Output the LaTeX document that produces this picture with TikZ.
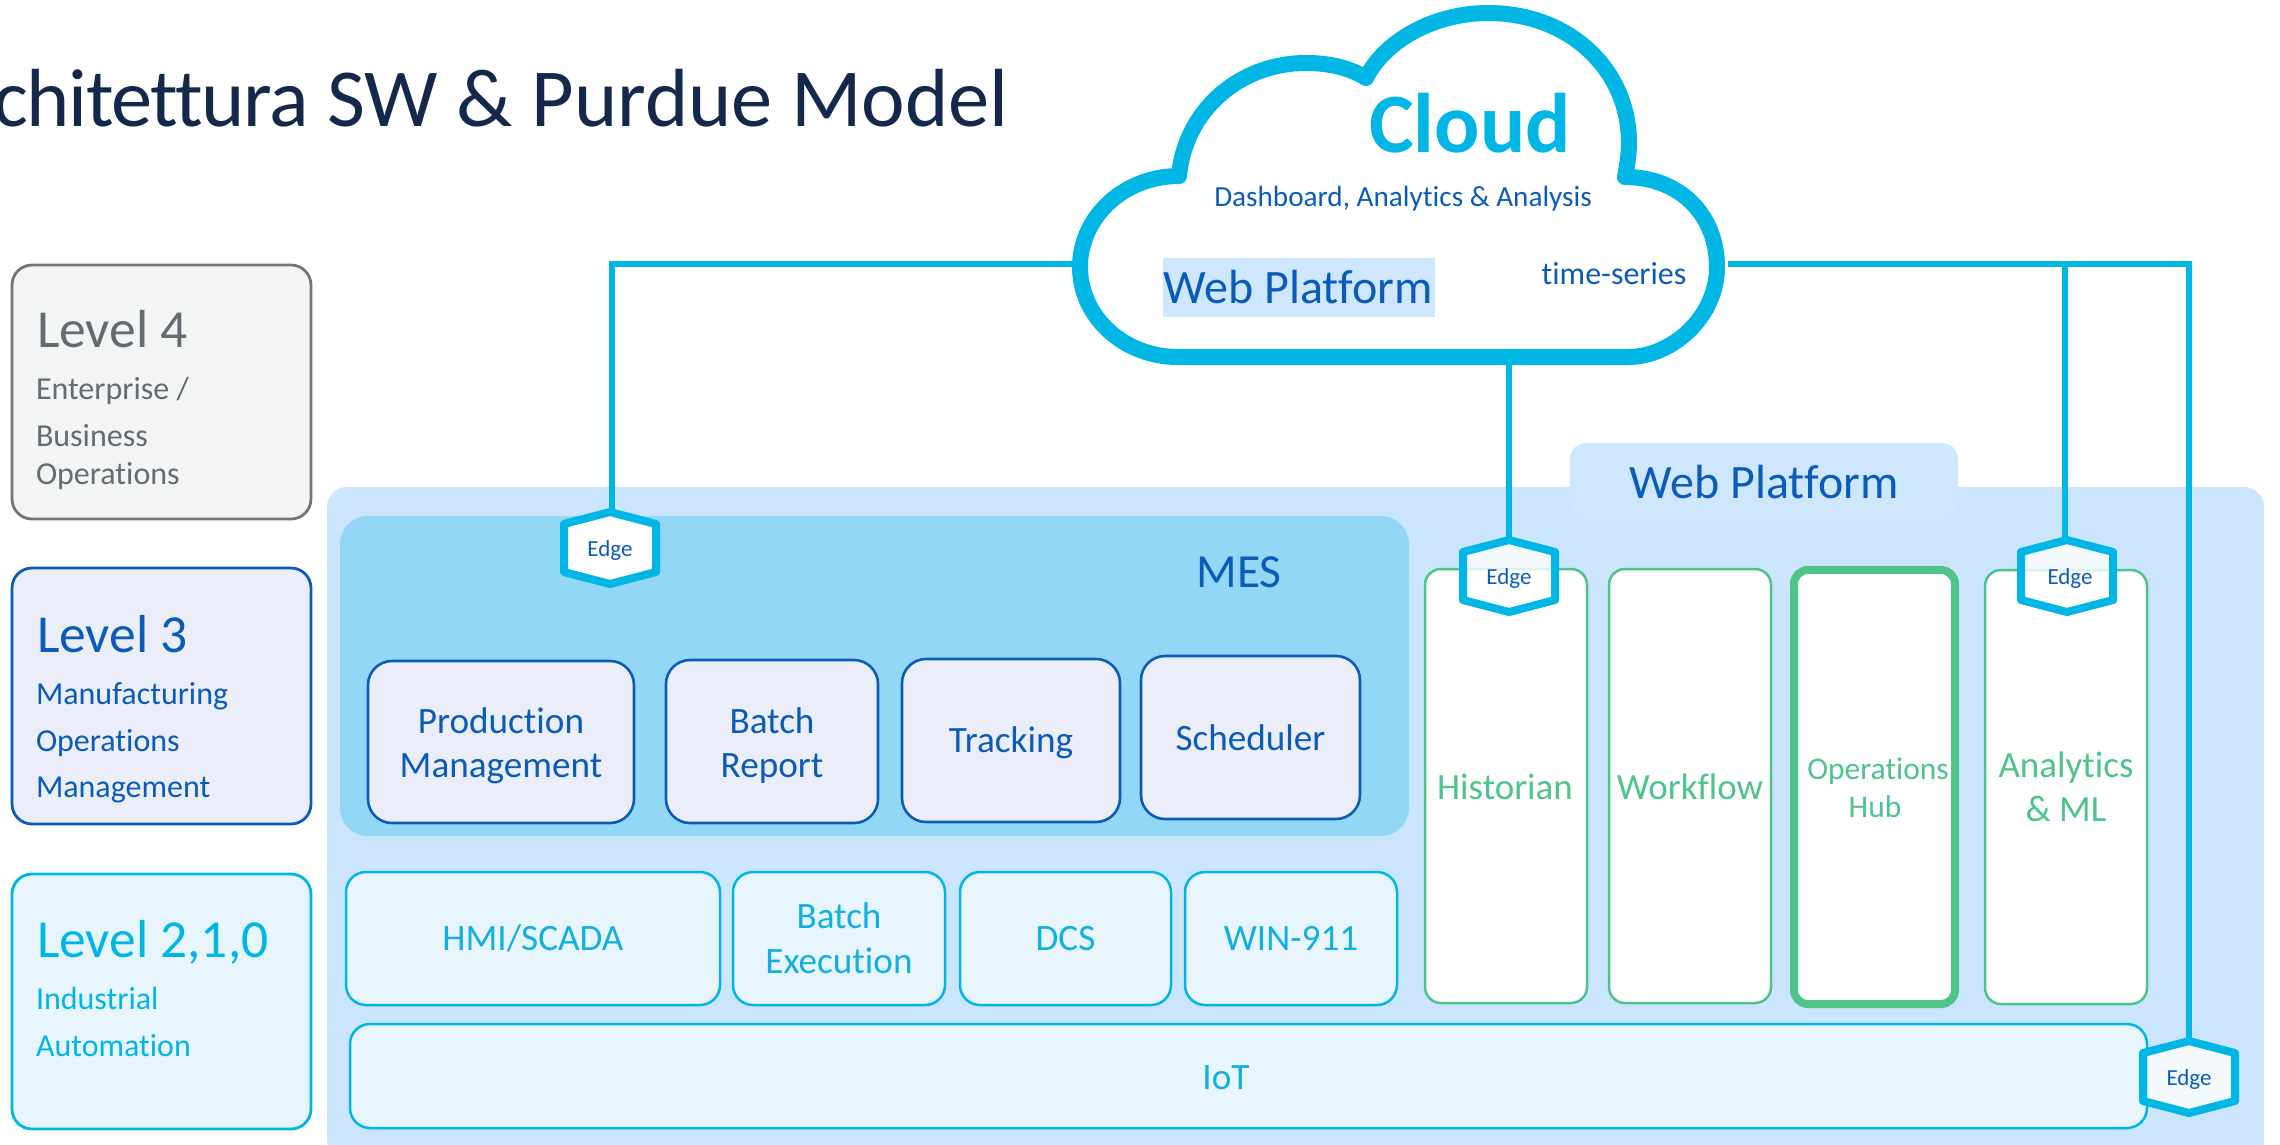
\documentclass[tikz,border=0pt]{standalone}
\usepackage{fontspec}
\setmainfont{Carlito}[Ligatures=CommonOff]
\definecolor{cyanline}{HTML}{00B6E4}
\definecolor{cyantext}{HTML}{12B0DE}
\definecolor{deepblue}{HTML}{0B5CB8}
\definecolor{panelblue}{HTML}{CBE5FE}
\definecolor{tabblue}{HTML}{CFE6FF}
\definecolor{mesblue}{HTML}{93D7F7}
\definecolor{palecyan}{HTML}{E8F5FC}
\definecolor{paleindigo}{HTML}{EBEEF8}
\definecolor{greenline}{HTML}{4EC48A}
\definecolor{greytext}{HTML}{666B73}
\definecolor{greyline}{HTML}{747474}
\definecolor{greyfill}{HTML}{F3F4F4}
\definecolor{navy}{HTML}{14284B}
\newcommand{\fs}[2]{\fontsize{#1}{#2}\selectfont}
\newcommand{\rbox}[7]{\node[#2, minimum width={(#5-#3)*1pt}, minimum height={(#6-#4)*1pt}, at={({(#3+#5)/2},{(#4+#6)/2})}] (#1) {#7};}
\newcommand{\edgehex}[5]{%
  \draw[#4] (#2,#3-36) -- (#2+46,#3-24) -- (#2+46,#3+24) -- (#2,#3+36) -- (#2-46,#3+24) -- (#2-46,#3-24) -- cycle;
  \node[edgebox] (#1) at (#2,#3) {};
  \node[edgetext] (#1t) at (#2+#5,#3+2) {Edge};}
\tikzset{
  x=1pt,y=-1pt,
  base/.style={inner sep=0pt,outer sep=0pt,align=center},
  levelbox/.style={base,rounded corners=20pt,line width=2.8pt},
  mesbox/.style={base,rounded corners=24pt,line width=2.6pt,draw=deepblue,fill=paleindigo,text=deepblue,font=\fs{37.2}{44}},
  mestxt/.style={base,text=deepblue,font=\fs{37.2}{44}},
  autobox/.style={base,rounded corners=20pt,line width=2.5pt,draw=cyanline,fill=palecyan,text=cyantext,font=\fs{37.2}{45}},
  greenbox/.style={base,rounded corners=16pt,line width=2.5pt,draw=greenline,fill=white},
  greenthick/.style={base,rounded corners=14pt,line width=8pt,draw=greenline,fill=white},
  greentext/.style={base,text=greenline,font=\fs{37}{44}},
  wire/.style={draw=cyanline,line width=6pt,line join=miter},
  hexsolid/.style={draw=cyanline,line width=8pt,line join=round,fill=white},
  hexglass/.style={draw=cyanline,line width=8pt,line join=round,fill=white,fill opacity=.8},
  edgebox/.style={base,minimum width=92pt,minimum height=72pt},
  edgetext/.style={base,text=deepblue,font=\fs{23}{26}},
  lefttext/.style={inner sep=0pt,outer sep=0pt,anchor=base west},
  midtext/.style={inner sep=0pt,outer sep=0pt,anchor=base},
}
\begin{document}
\begin{tikzpicture}
\useasboundingbox (0,0) rectangle (2280,1144);
\clip (0,0) rectangle (2280,1144);
% title
\node[inner sep=0pt,anchor=base east,text=navy,font=\fs{82.5}{90}] (title) at (1009,126) {{\addfontfeature{LetterSpace=-1.8}chitettura} SW \& Purdue Model};
% level boxes
\rbox{lvfour}{levelbox,draw=greyline,fill=greyfill}{12}{265}{311}{519}{}
\rbox{lvthree}{levelbox,draw=deepblue,fill=paleindigo}{12}{568}{311}{824}{}
\rbox{lvtwo}{levelbox,draw=cyanline,fill=palecyan}{12}{874}{311}{1129}{}
\node[lefttext,text=greytext,font=\fs{53.5}{60}] (lfa) at (37,347) {Level 4};
\node[lefttext,text=greytext,font=\fs{32}{38}] (lfb) at (36,399) {Enterprise /};
\node[lefttext,text=greytext,font=\fs{32}{38}] (lfc) at (36,446) {Business};
\node[lefttext,text=greytext,font=\fs{32}{38}] (lfd) at (36,484) {Operations};
\node[lefttext,text=deepblue,font=\fs{53.5}{60}] (lta) at (37,652) {Level 3};
\node[lefttext,text=deepblue,font=\fs{32}{38}] (ltb) at (36,704) {Manufacturing};
\node[lefttext,text=deepblue,font=\fs{32}{38}] (ltc) at (36,751) {Operations};
\node[lefttext,text=deepblue,font=\fs{32}{38}] (ltd) at (36,797) {Management};
\node[lefttext,text=cyanline,font=\fs{53.5}{60}] (lza) at (37,957) {Level 2,1,0};
\node[lefttext,text=cyanline,font=\fs{32}{38}] (lzb) at (36,1009) {Industrial};
\node[lefttext,text=cyanline,font=\fs{32}{38}] (lzc) at (36,1056) {Automation};
% panel
\rbox{panel}{base,rounded corners=20pt,fill=panelblue}{327}{487}{2264}{1160}{}
\rbox{webtab}{base,rounded corners=16pt,fill=tabblue}{1570}{443}{1958}{520}{}
\node[midtext,text=deepblue,font=\fs{48}{52}] (webtabtext) at (1764,498) {Web Platform};
% MES
\rbox{mes}{base,rounded corners=28pt,fill=mesblue}{340}{516}{1409}{836}{}
\node[midtext,text=deepblue,font=\fs{47.5}{52}] (mestext) at (1239,587) {MES};
\rbox{prod}{mesbox}{368}{661}{634}{823}{}
\node[mestxt] (prodtext) at (501,746) {Production\\Management};
\rbox{batchrep}{mesbox}{666}{660}{878}{823}{}
\node[mestxt] (batchreptext) at (772,746) {Batch\\Report};
\rbox{track}{mesbox}{902}{659}{1120}{822}{}
\node[mestxt] (tracktext) at (1011,743) {Tracking};
\rbox{sched}{mesbox}{1141}{656}{1360}{819}{Scheduler}
% automation row
\rbox{hmi}{autobox}{346}{872}{720}{1005}{HMI/SCADA}
\rbox{batchex}{autobox}{733}{872}{945}{1005}{Batch\\Execution}
\rbox{dcs}{autobox}{960}{872}{1171}{1005}{DCS}
\rbox{win}{autobox}{1185}{872}{1397}{1005}{WIN-911}
\rbox{iot}{autobox}{350}{1024}{2147}{1128}{}
\node[base,text=cyantext,font=\fs{37.2}{45}] (iottext) at (1226,1078) {IoT};
% green columns
\rbox{hist}{greenbox}{1425}{569}{1587}{1003}{}
\rbox{work}{greenbox}{1609}{569}{1771}{1003}{}
\rbox{ophub}{greenthick}{1794}{570}{1955}{1004}{}
\rbox{anml}{greenbox}{1985}{570}{2147}{1004}{}
\node[greentext] (histtext) at (1505,787) {Historian};
\node[greentext] (worktext) at (1690,787) {Workflow};
\node[greentext,font=\fs{31.5}{38}] (ophubtext) at (1878,788) {Operations\\Hub\kern6pt};
\node[greentext] (anmltext) at (2066,787) {Analytics\\\& ML};
% connectors
\coordinate (cloudW) at (1080,264);
\coordinate (cloudE) at (1728,264);
\coordinate (cloudS) at (1509,357);
\coordinate (cornerW) at (612,264);
\coordinate (teeE) at (2065,264);
\coordinate (cornerE) at (2189,264);
% cloud
\draw[draw=cyanline,line width=16pt,line join=round,fill=white]
  (1178,357) .. controls (1124,357) and (1080,317) .. (1080,267)
  .. controls (1080,217) and (1124,176) .. (1179,176)
  .. controls (1185,110) and (1240,63) .. (1306,63)
  .. controls (1330,63) and (1350,68) .. (1366,78)
  .. controls (1385,40) and (1435,13) .. (1488,13)
  .. controls (1570,13) and (1629,70) .. (1629,143)
  .. controls (1629,155) and (1627,165) .. (1625,177)
  .. controls (1680,177) and (1717,215) .. (1717,267)
  .. controls (1717,317) and (1672,357) .. (1628,357)
  -- cycle;
\node[midtext,text=cyanline,font=\bfseries\fs{84.5}{90}] (cloudtext) at (1470,152) {Cloud};
\node[midtext,text=deepblue,font=\fs{29.2}{34}] (dash) at (1403,206) {Dashboard, Analytics \& Analysis};
\node[midtext,text=deepblue,font=\fs{32}{38}] (ts) at (1614,284) {time-series};
\rbox{hilite}{base,fill=tabblue}{1163}{258}{1435}{317}{}
\node[midtext,text=deepblue,font=\fs{48}{52}] (cloudweb) at (1298,303) {Web Platform};
% edge hexes
\edgehex{edgea}{610}{548}{hexsolid}{0}
\edgehex{edgeb}{1509}{576}{hexglass}{0}
\edgehex{edgec}{2067}{576}{hexglass}{3}
\edgehex{edged}{2189}{1077}{hexglass}{0}
\draw[wire] (cloudW) -- (cornerW) -- (edgea.north -| cornerW);
\draw[wire] (cloudS) -- (edgeb.north);
\draw[wire] (cloudE) -- (cornerE) -- (edged.north);
\draw[wire] (teeE) -- (edgec.north -| teeE);
\end{tikzpicture}
\end{document}
